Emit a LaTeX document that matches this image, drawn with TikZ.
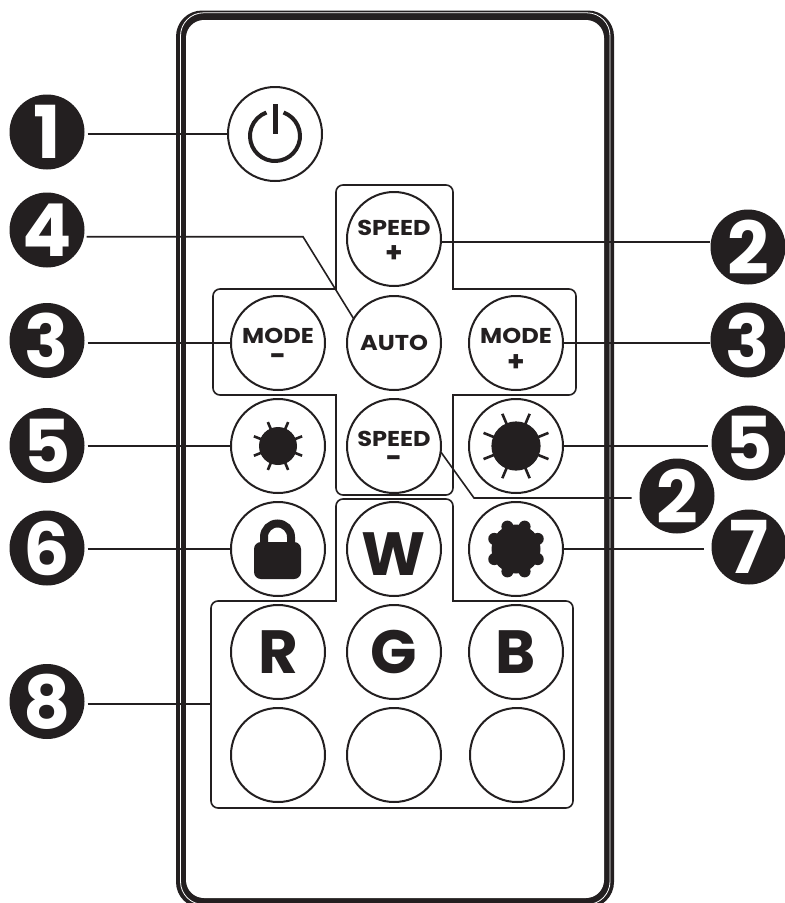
\documentclass[tikz,border=0pt]{standalone}
\usepackage{fontspec}
\setmainfont{Poppins}
\newfontfamily\widefont{Poppins}[FakeStretch=1.12]
\definecolor{ink}{HTML}{231F20}
\tikzset{
 btn/.style={circle,draw=ink,line width=2pt,minimum size=94pt,inner sep=0pt,outer sep=0pt,fill=white},
 badge/.style={circle,fill=ink,minimum size=75pt,inner sep=0pt,outer sep=0pt,text=white,font=\fontsize{73}{73}\selectfont\bfseries},
 lbl/.style={anchor=base,text=ink,inner sep=0pt,font=\widefont\fontsize{21.5}{21.5}\selectfont\bfseries},
 sym/.style={anchor=base,text=ink,inner sep=0pt,font=\fontsize{28}{28}\selectfont\bfseries},
 big/.style={anchor=base,text=ink,inner sep=0pt,font=\fontsize{61}{61}\selectfont\bfseries},
 lead/.style={draw=ink,line width=1.6pt},
 panel/.style={draw=ink,line width=1.6pt},
 ray/.style={draw=ink,line width=2.6pt}
}
\begin{document}
\begin{tikzpicture}[x=1pt,y=-1pt]
\useasboundingbox (0,0) rectangle (785,903);
% body
\fill[ink,rounded corners=26pt] (176,10.5) rectangle (614,908);
\draw[white,line width=0.8pt,rounded corners=23pt] (180.5,12.8) rectangle (610,904.5);
\fill[white,rounded corners=18pt] (186,20) rectangle (604,898);
% panels
\draw[panel] (336,289) [rounded corners=7pt] -- (336,185) -- (453,185) [sharp corners] -- (453,289) [rounded corners=7pt] -- (576,289) -- (576,395) [sharp corners] -- (453,395) [rounded corners=7pt] -- (453,495) -- (336,495) [sharp corners] -- (336,395) [rounded corners=7pt] -- (213,395) -- (213,289) [sharp corners] -- cycle;
\draw[panel] (336,601) [rounded corners=7pt] -- (336,499) -- (453,499) [sharp corners] -- (453,601) [rounded corners=7pt] -- (573,601) -- (573,808) -- (211,808) -- (211,601) [sharp corners] -- cycle;
% buttons
\node[btn] (pw) at (275,134) {};
\node[btn] (spp) at (394,239) {};
\node[btn] (mom) at (278,343) {};
\node[btn] (auto) at (394,343) {};
\node[btn] (mop) at (516,343) {};
\node[btn] (dim) at (278,446) {};
\node[btn] (spm) at (394,446) {};
\node[btn] (bri) at (516,446) {};
\node[btn] (lock) at (278,549) {};
\node[btn] (w) at (394,549) {};
\node[btn] (flo) at (516,549) {};
\node[btn] (r) at (278,652) {};
\node[btn] (g) at (394,652) {};
\node[btn] (b) at (516,652) {};
\node[btn] (c1) at (278,755) {};
\node[btn] (c2) at (394,755) {};
\node[btn] (c3) at (517,755) {};
% badges
\node[badge] (n1) at (47,132) {1};
\node[badge] (n4) at (47,230) {4};
\node[badge] (n3l) at (47,340.5) {3};
\node[badge] (n5l) at (47,445.5) {5};
\node[badge] (n6) at (47,548) {6};
\node[badge] (n8) at (47,701.5) {8};
\node[badge] (n2r) at (748,247) {2};
\node[badge] (n3r) at (748,340) {3};
\node[badge] (n5r) at (749,443) {5};
\node[badge] (n2b) at (677,496) {2};
\node[badge] (n7) at (749,547) {7};
% connectors
\coordinate (k4) at (303,236.7);
\coordinate (k2) at (474,498);
\coordinate (k8) at (211,703.7);
\coordinate (k2r) at (441,241.7);
\draw[lead] ([xshift=3pt]n1.east |- pw.west) -- (pw.west);
\draw[lead] ([xshift=2pt]n4.east |- k4) -- (k4) -- (auto.149);
\draw[lead] ([xshift=3pt]n3l.east |- mom.west) -- (mom.west);
\draw[lead] ([xshift=3pt]n5l.east |- dim.west) -- (dim.west);
\draw[lead] ([xshift=3pt]n6.east |- lock.west) -- (lock.west);
\draw[lead] ([xshift=3pt]n8.east |- k8) -- (k8);
\draw[lead] (k2r) -- ([xshift=-1pt]n2r.west |- k2r);
\draw[lead] (mop.east) -- ([xshift=-1pt]n3r.west |- mop.east);
\draw[lead] (bri.east) -- ([xshift=-4pt]n5r.west |- bri.east);
\draw[lead] (spm.-7) -- (k2) -- ([xshift=-8pt]n2b.west |- k2);
\draw[lead] (flo.east) -- ([xshift=-8pt]n7.west |- flo.east);
% labels
\node[lbl] at (394,235) {SPEED};
\node[sym] at (394,262) {+};
\node[lbl] at (278,343) {MODE};
\node[sym] at (278,365) {-};
\node[lbl] at (394,350) {AUTO};
\node[lbl] at (516,343) {MODE};
\node[sym] at (516,371) {+};
\node[lbl] at (394,446.7) {SPEED};
\node[sym] at (394,467) {-};
\node[big] at (394,575) {W};
\node[big] at (278,673) {R};
\node[big] at (394,673) {G};
\node[big] at (516,673) {B};
% power icon
\draw[ink,line width=4pt] (275,136) ++(-70:25) arc[start angle=-70,end angle=250,radius=25];
\draw[ink,line width=5pt] (275,104) -- (275,134);
% suns
\fill[ink] (278,446) circle[radius=19];
\fill[ink] (516,446) circle[radius=24.6];
\foreach \a in {22,67,113,158,202,247,293,338}{
 \draw[ray] (278,446) ++(\a:18) -- ++(\a:8);
 \draw[ray] (516,446) ++(\a:24) -- ++(\a:11);
}
% flower
\fill[ink] (516,549) circle[radius=24.5];
\foreach \a in {25,69,111,155,205,249,291,335}{
 \fill[ink] (516,549) ++(\a:24) circle[radius=6];
}
% lock
\draw[ink,line width=8pt] (264,548) -- (264,537) arc[start angle=180,end angle=360,radius=13.5] -- (291,548);
\fill[ink,rounded corners=7pt] (254,542) rectangle (301,579);
\end{tikzpicture}
\end{document}
